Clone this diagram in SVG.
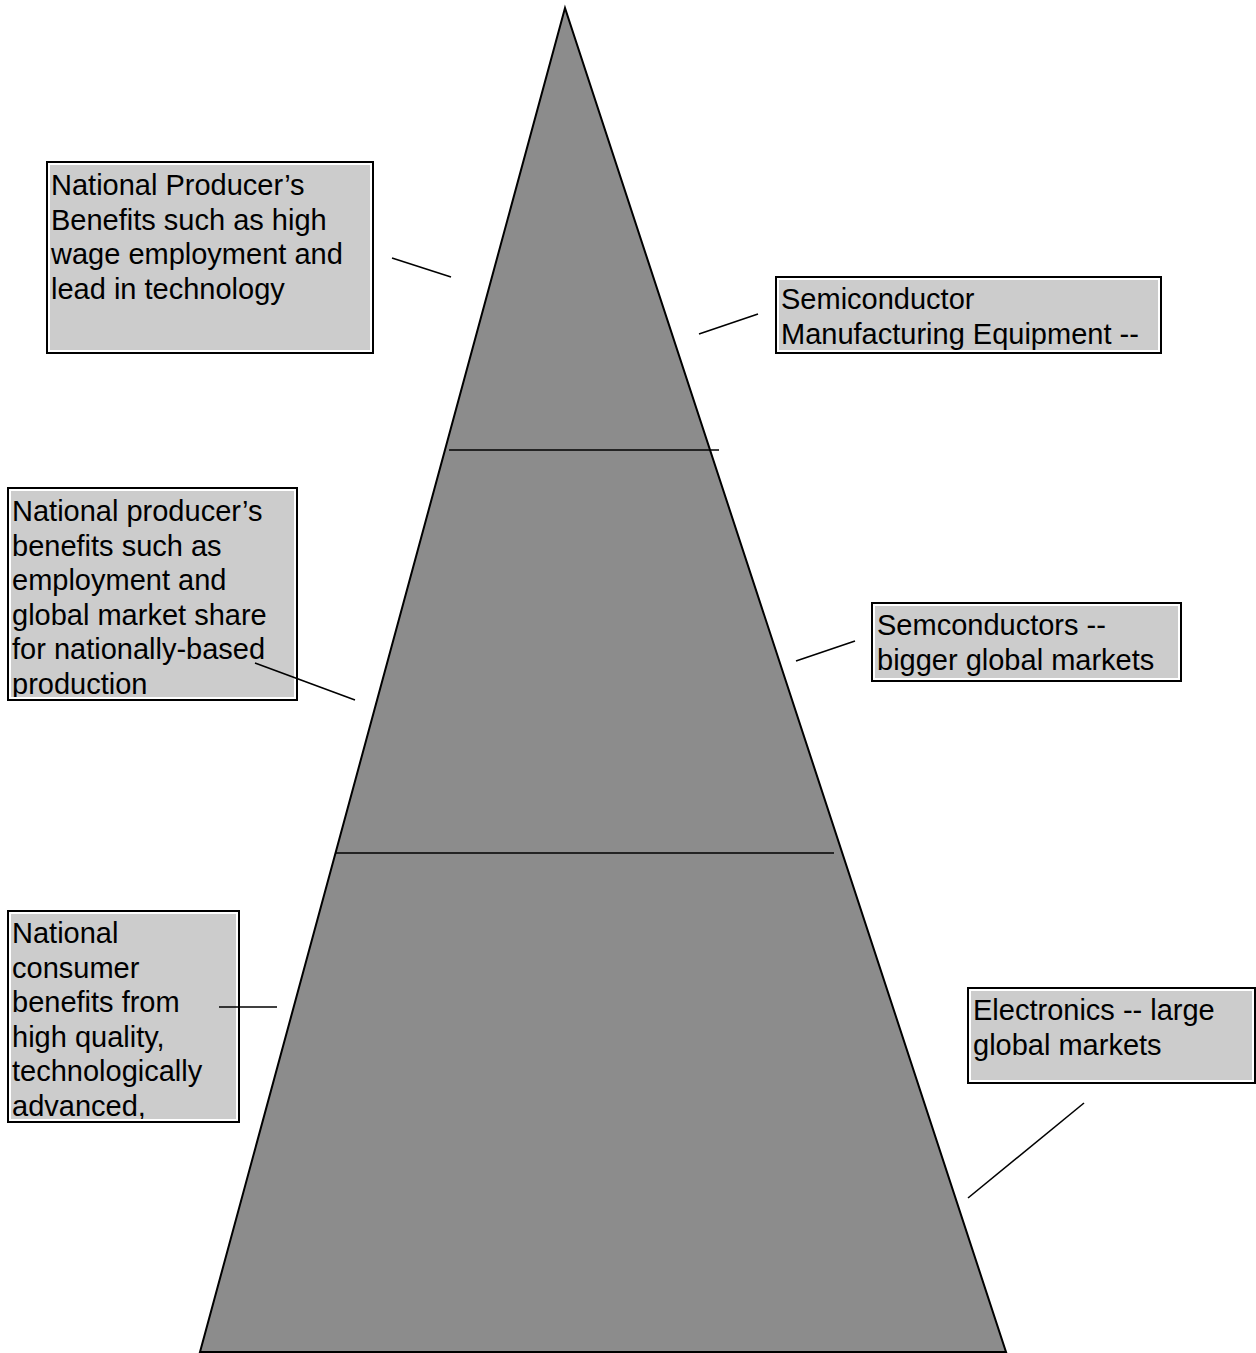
<svg xmlns="http://www.w3.org/2000/svg" width="1256" height="1353" viewBox="0 0 1256 1353">
<style>
.outer{fill:#ffffff;stroke:#000000;stroke-width:2}
.inner{fill:#cccccc;stroke:none}
.t{font-family:"Liberation Sans",Arial,sans-serif;font-size:29px;fill:#000000}
.c{stroke:#000000;stroke-width:1.6;fill:none}
</style>
<defs>
<clipPath id="cp1"><rect x="50" y="165" width="320" height="185"/></clipPath>
<clipPath id="cp2"><rect x="779" y="280" width="379" height="70"/></clipPath>
<clipPath id="cp3"><rect x="11" y="491" width="283" height="206"/></clipPath>
<clipPath id="cp4"><rect x="11" y="914" width="225" height="205"/></clipPath>
<clipPath id="cp5"><rect x="875" y="606" width="303" height="72"/></clipPath>
<clipPath id="cp6"><rect x="971" y="991" width="283" height="89"/></clipPath>
</defs>
<g id="pyramid">
<polygon points="565,8 200,1352 1006,1352" fill="#8c8c8c" stroke="#000000" stroke-width="2"/>
</g>
<g id="box1">
<rect class="outer" x="47" y="162" width="326" height="191"/>
<rect class="inner" x="50" y="165" width="320" height="185"/>
<g clip-path="url(#cp1)">
<text class="t" x="51" y="195">National Producer’s</text>
<text class="t" x="51" y="229.5">Benefits such as high</text>
<text class="t" x="51" y="264">wage employment and</text>
<text class="t" x="51" y="298.5">lead in technology</text>
</g>
</g>
<g id="box2">
<rect class="outer" x="776" y="277" width="385" height="76"/>
<rect class="inner" x="779" y="280" width="379" height="70"/>
<g clip-path="url(#cp2)">
<text class="t" x="781" y="309">Semiconductor</text>
<text class="t" x="781" y="343.5">Manufacturing Equipment --</text>
</g>
</g>
<g id="box3">
<rect class="outer" x="8" y="488" width="289" height="212"/>
<rect class="inner" x="11" y="491" width="283" height="206"/>
<g clip-path="url(#cp3)">
<text class="t" x="12" y="521">National producer’s</text>
<text class="t" x="12" y="555.5">benefits such as</text>
<text class="t" x="12" y="590">employment and</text>
<text class="t" x="12" y="624.5">global market share</text>
<text class="t" x="12" y="659">for nationally-based</text>
<text class="t" x="12" y="693.5">production</text>
</g>
</g>
<g id="box4">
<rect class="outer" x="8" y="911" width="231" height="211"/>
<rect class="inner" x="11" y="914" width="225" height="205"/>
<g clip-path="url(#cp4)">
<text class="t" x="12" y="943">National</text>
<text class="t" x="12" y="977.5">consumer</text>
<text class="t" x="12" y="1012">benefits from</text>
<text class="t" x="12" y="1046.5">high quality,</text>
<text class="t" x="12" y="1081">technologically</text>
<text class="t" x="12" y="1115.5">advanced,</text>
</g>
</g>
<g id="box5">
<rect class="outer" x="872" y="603" width="309" height="78"/>
<rect class="inner" x="875" y="606" width="303" height="72"/>
<g clip-path="url(#cp5)">
<text class="t" x="877" y="635">Semconductors --</text>
<text class="t" x="877" y="669.5">bigger global markets</text>
</g>
</g>
<g id="box6">
<rect class="outer" x="968" y="988" width="287" height="95"/>
<rect class="inner" x="971" y="991" width="281" height="89"/>
<g clip-path="url(#cp6)">
<text class="t" x="973" y="1020">Electronics -- large</text>
<text class="t" x="973" y="1054.5">global markets</text>
</g>
</g>
<g id="connectors">
<line class="c" x1="449" y1="450" x2="719" y2="450"/>
<line class="c" x1="335" y1="853" x2="834" y2="853"/>
<line class="c" x1="392" y1="258" x2="451" y2="277"/>
<line class="c" x1="699" y1="334" x2="758" y2="314"/>
<line class="c" x1="255" y1="663" x2="355" y2="700"/>
<line class="c" x1="796" y1="661" x2="855" y2="641"/>
<line class="c" x1="219" y1="1007" x2="277" y2="1007"/>
<line class="c" x1="968" y1="1198" x2="1084" y2="1103"/>
</g>
</svg>
